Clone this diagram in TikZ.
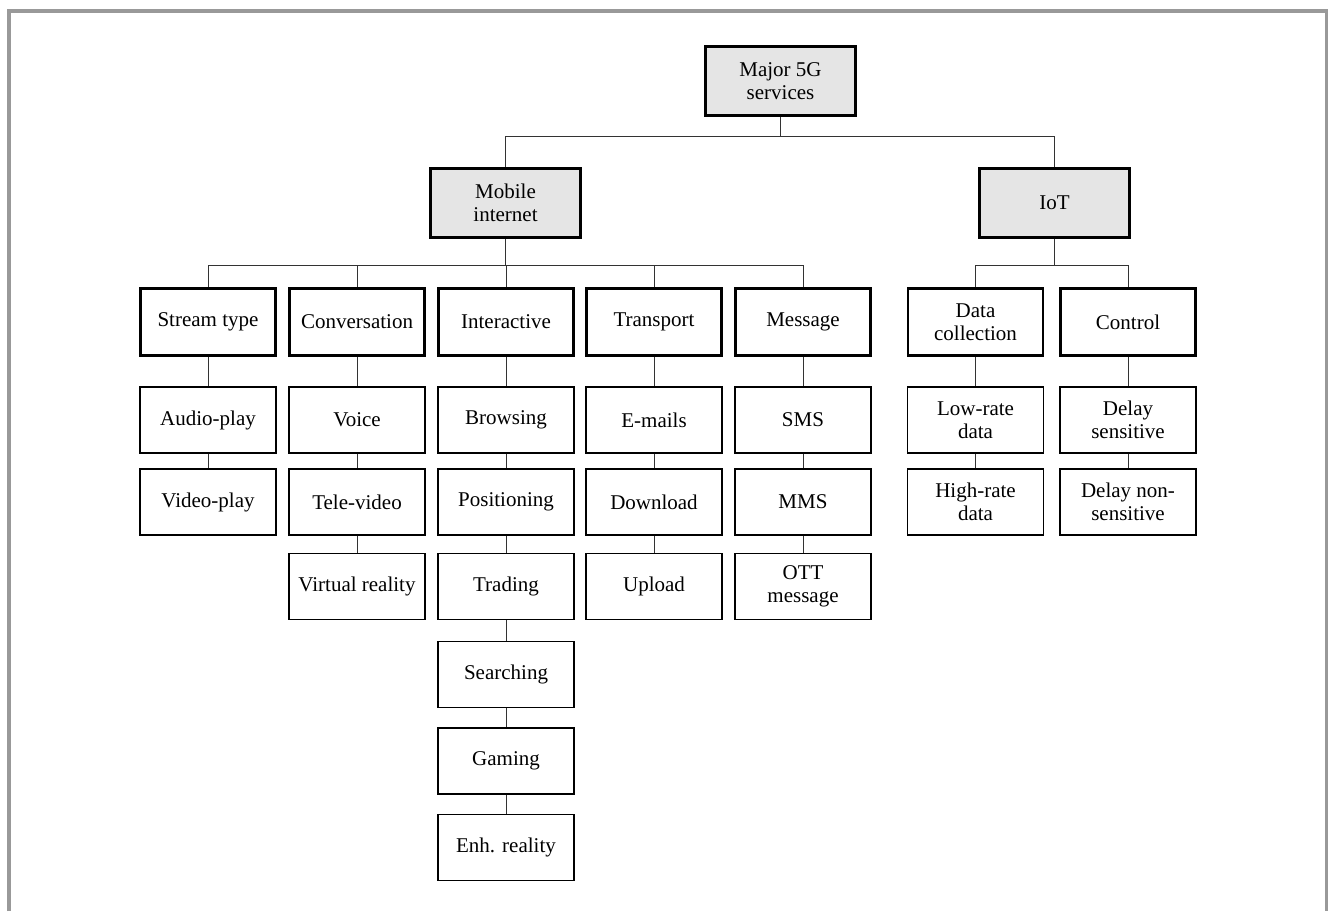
\documentclass[tikz,border=0pt]{standalone}
\usepackage{fontspec}
\setmainfont{Liberation Serif}
\begin{document}
\begin{tikzpicture}[x=0.5pt,y=-0.5pt,
  every node/.style={font=\fontsize{10.5}{11.7}\selectfont,align=center,inner sep=2pt},
  topbox/.style={draw,line width=1.4pt,fill=black!10,minimum width=75pt,minimum height=34.5pt},
  groupbox/.style={draw,line width=1.4pt,fill=white,minimum width=67.5pt,minimum height=33.5pt},
  leafbox/.style={draw,line width=0.6pt,fill=white,minimum width=68pt,minimum height=33pt},
  link/.style={black!80,line width=0.5pt}]
\useasboundingbox (0,0) rectangle (1328,911);
\draw[black!40,line width=2pt] (9,911) -- (9,11) -- (1327,11) -- (1327,911);

% top levels
\node[topbox] (major) at (780.5,81) {Major 5G\\services};
\node[topbox] (mobile) at (505.5,203) {Mobile\\internet};
\node[topbox] (iot) at (1054.5,203) {IoT};

% service groups
\node[groupbox] (stream) at (208,322) {Stream type};
\node[groupbox] (conv) at (357,322) {Conversation};
\node[groupbox] (inter) at (506,322) {Interactive};
\node[groupbox] (trans) at (654,322) {Transport};
\node[groupbox] (msg) at (803,322) {Message};
\node[groupbox] (datacol) at (975.5,322) {Data\\collection};
\node[groupbox] (ctrl) at (1128,322) {Control};

% services
\node[leafbox] (audio) at (208,420) {Audio-play};
\node[leafbox] (video) at (208,502) {Video-play};

\node[leafbox] (voice) at (357,420) {Voice};
\node[leafbox] (televideo) at (357,502) {Tele-video};
\node[leafbox] (vr) at (357,586.5) {Virtual reality};

\node[leafbox] (browse) at (506,420) {Browsing};
\node[leafbox] (position) at (506,502) {Positioning};
\node[leafbox] (trade) at (506,586.5) {Trading};
\node[leafbox] (search) at (506,674.5) {Searching};
\node[leafbox] (game) at (506,761) {Gaming};
\node[leafbox] (enh) at (506,847.5) {Enh. reality};

\node[leafbox] (email) at (654,420) {E-mails};
\node[leafbox] (down) at (654,502) {Download};
\node[leafbox] (up) at (654,586.5) {Upload};

\node[leafbox] (sms) at (803,420) {SMS};
\node[leafbox] (mms) at (803,502) {MMS};
\node[leafbox] (ott) at (803,586.5) {OTT\\message};

\node[leafbox] (lowrate) at (975.5,420) {Low-rate\\data};
\node[leafbox] (highrate) at (975.5,502) {High-rate\\data};

\node[leafbox] (delays) at (1128,420) {Delay\\sensitive};
\node[leafbox] (delayns) at (1128,502) {Delay non-\\sensitive};

% tree links
\draw[link] (major.south) -- ++(0,20) -| (mobile.north);
\draw[link] (major.south) -- ++(0,20) -| (iot.north);
\foreach \c in {stream,conv,inter,trans,msg}
  \draw[link] (mobile.south) -- ++(0,27) -| (\c.north);
\foreach \c in {datacol,ctrl}
  \draw[link] (iot.south) -- ++(0,27) -| (\c.north);

\foreach \a/\b in {stream/audio,audio/video,
  conv/voice,voice/televideo,televideo/vr,
  inter/browse,browse/position,position/trade,trade/search,search/game,game/enh,
  trans/email,email/down,down/up,
  msg/sms,sms/mms,mms/ott,
  datacol/lowrate,lowrate/highrate,
  ctrl/delays,delays/delayns}
  \draw[link] (\a.south) -- (\b.north);
\end{tikzpicture}
\end{document}
